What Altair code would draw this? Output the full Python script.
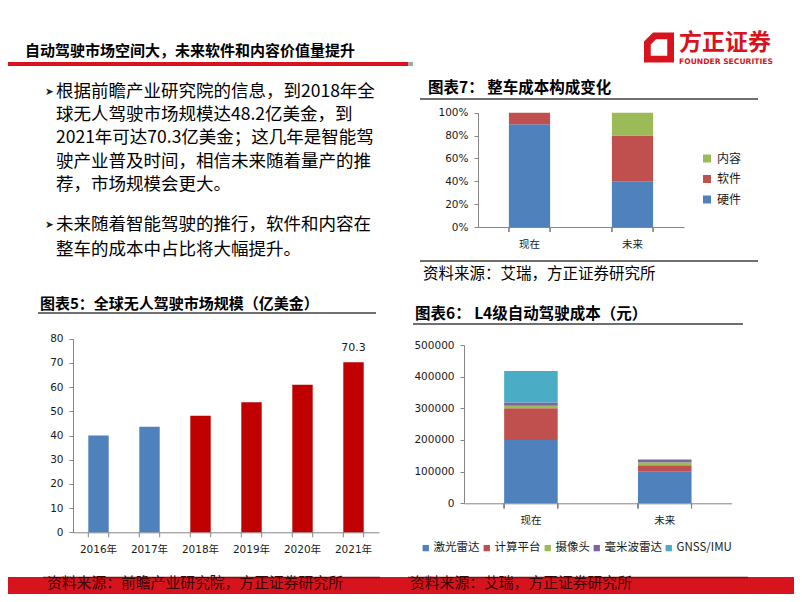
import altair as alt
import pandas as pd

# ---------------- data ----------------
years = ['2016年', '2017年', '2018年', '2019年', '2020年', '2021年']
market = [40.0, 43.6, 48.2, 53.7, 61.0, 70.3]
hist_years = ['2016年', '2017年']

phases = ['现在', '未来']
comp7 = ['硬件', '软件', '内容']
share_now = [90, 10, 0]
share_future = [40, 40, 20]

comp6 = ['激光雷达', '计算平台', '摄像头', '毫米波雷达', 'GNSS/IMU']
cost_now = [200000, 100000, 8000, 10000, 100000]
cost_future = [100000, 20000, 10000, 8000, 0]

bullet1 = ['根据前瞻产业研究院的信息，到2018年全',
           '球无人驾驶市场规模达48.2亿美金，到',
           '2021年可达70.3亿美金；这几年是智能驾',
           '驶产业普及时间，相信未来随着量产的推',
           '荐，市场规模会更大。']
bullet2 = ['未来随着智能驾驶的推行，软件和内容在',
           '整车的成本中占比将大幅提升。']

# ---------------- layout ----------------
W, H = 786, 586
CJK = 'Noto Sans CJK SC'
NUM = 'DejaVu Sans, Noto Sans CJK SC'
AX = '#868686'
LBL = '#1a1a1a'
RED = '#D7141E'

one = pd.DataFrame({'k': [0]})


def txt(s, x, y, size, bold=False, color='#000000', font=CJK, align='left'):
    return alt.Chart(one).mark_text(
        text=s, align=align, baseline='middle', fontSize=size,
        fontWeight='bold' if bold else 'normal', color=color, font=font
    ).encode(x=alt.value(x), y=alt.value(y))


def rect(x0, x1, y0, y1, color):
    return alt.Chart(one).mark_rect(color=color).encode(
        x=alt.value(x0), x2=alt.value(x1), y=alt.value(y0), y2=alt.value(y1))


def hline(x0, x1, y, color, w=1):
    return alt.Chart(one).mark_rule(color=color, strokeWidth=w).encode(
        x=alt.value(x0), x2=alt.value(x1), y=alt.value(y))


def xaxis(y_axis):
    return alt.Axis(orient='bottom', offset=y_axis - H, title=None, labelAngle=0,
                    ticks=False, tickSize=0, domain=True, domainColor=AX,
                    labelFont=NUM, labelFontSize=10.5, labelColor=LBL,
                    labelPadding=12, grid=False)


def yaxis(x_axis, values, expr=None):
    kw = dict(orient='left', offset=-x_axis, title=None, values=values, grid=False,
              tickSize=4, tickColor=AX, domainColor=AX, labelFont=NUM, format='d',
              labelFontSize=10.5, labelColor=LBL, labelPadding=6)
    if expr:
        kw['labelExpr'] = expr
    return alt.Axis(**kw)


deco = []
# title + red line
deco.append(txt('自动驾驶市场空间大，未来软件和内容价值量提升', 17, 42.5, 15, bold=True))
deco.append(rect(0, 400, 54, 58, RED))
deco.append(rect(400, 405, 54, 58, '#A6A6A6'))
# logo
logo_path = ('M -0.4 -1 L 1 -1 L 1 1 L -1 1 L -1 -0.4 Z '
             'M -0.55 0.55 L 0.55 0.55 L 0.55 -0.55 L -0.2 -0.55 L -0.55 -0.2 Z')
deco.append(alt.Chart(one).mark_point(shape=logo_path, filled=True, color=RED, size=900,
                                      opacity=1, strokeWidth=0)
            .encode(x=alt.value(651), y=alt.value(39.5)))
deco.append(txt('方正证券', 671, 34.5, 23, bold=True, color=RED))
deco.append(txt('FOUNDER SECURITIES', 671, 53.5, 7.6, bold=True, color=RED, font='DejaVu Sans'))

# bullets
ys1 = [84, 107, 130, 154, 177]
ys2 = [217, 242]
deco.append(txt('➤', 37, ys1[0], 10.5, font='DejaVu Sans', color='#222222'))
deco.append(txt('➤', 37, ys2[0], 10.5, font='DejaVu Sans', color='#222222'))
for s, y in zip(bullet1, ys1):
    deco.append(txt(s, 48, y, 17.5))
for s, y in zip(bullet2, ys2):
    deco.append(txt(s, 48, y, 17.5))

# chart titles and lines
deco.append(txt('图表5：全球无人驾驶市场规模（亿美金）', 32, 296, 15, bold=True))
deco.append(hline(30, 368, 305, '#404040', 1.5))
deco.append(txt('图表7：  整车成本构成变化', 420, 80, 15.5, bold=True))
deco.append(hline(412, 750, 91, '#404040', 1.5))
deco.append(hline(412, 750, 253, '#404040', 1.5))
deco.append(txt('资料来源：艾瑞，方正证券研究所', 415, 266, 15.5))
deco.append(txt('图表6：  L4级自动驾驶成本（元）', 407, 306, 15.5, bold=True))
deco.append(hline(405, 735, 316, '#404040', 1.5))

# footer
deco.append(rect(0, W, 569, H, RED))
deco.append(hline(35, 372, 569.5, '#7a1010', 1.5))
deco.append(hline(400, 740, 569.5, '#7a1010', 1.5))
deco.append(txt('资料来源：前瞻产业研究院，方正证券研究所', 39, 576, 14.8, color='#3a0505'))
deco.append(txt('资料来源：艾瑞，方正证券研究所', 402, 576, 14.8, color='#3a0505'))

# ---------------- chart 5 ----------------
df5 = pd.DataFrame({'year': years, 'value': market})
x5_scale = alt.Scale(domain=years, range=[65, 371], paddingInner=0.6, paddingOuter=0.3)
y5 = alt.Y('value:Q', scale=alt.Scale(domain=[0, 80], range=[524.3, 330.7], nice=False),
           axis=yaxis(65, list(range(0, 81, 10))))


def x5(bp=None):
    kw = dict(sort=years, scale=x5_scale, axis=xaxis(524.3))
    if bp is not None:
        kw['bandPosition'] = bp
    return alt.X('year:N', **kw)


bars5 = alt.Chart(df5).mark_bar().encode(
    x=x5(), y=y5,
    color=alt.condition(alt.FieldOneOfPredicate(field='year', oneOf=hist_years),
                        alt.value('#4F81BD'), alt.value('#C00000')))
lab5 = alt.Chart(df5).transform_filter(alt.datum.year == '2021年').mark_text(
    dy=-14, fontSize=11, font=NUM, color=LBL, baseline='middle').encode(
    x=x5(), y=y5, text='value:Q')
tk5a = alt.Chart(df5).mark_rule(color=AX).encode(x=x5(0), y=alt.value(524.3), y2=alt.value(529.3))
tk5b = alt.Chart(df5).mark_rule(color=AX).encode(x=x5(1), y=alt.value(524.3), y2=alt.value(529.3))
chart5 = alt.layer(bars5, lab5, tk5a, tk5b)

# ---------------- chart 7 ----------------
rows7 = []
for ph, vals in zip(phases, [share_now, share_future]):
    for c, v in zip(comp7, vals):
        rows7.append({'phase': ph, 'comp': c, 'share': v})
df7 = pd.DataFrame(rows7)
x7_scale = alt.Scale(domain=phases, range=[470, 676], paddingInner=0.6, paddingOuter=0.3)


def x7(bp=None):
    kw = dict(sort=phases, scale=x7_scale, axis=xaxis(219))
    if bp is not None:
        kw['bandPosition'] = bp
    return alt.X('phase:N', **kw)


bars7 = alt.Chart(df7).transform_calculate(
    ord="indexof(['硬件','软件','内容'], datum.comp)"
).mark_bar().encode(
    x=x7(),
    y=alt.Y('share:Q', stack='zero',
            scale=alt.Scale(domain=[0, 100], range=[219, 104.7], nice=False),
            axis=yaxis(470, [0, 20, 40, 60, 80, 100], "datum.value + '%'")),
    color=alt.Color('comp:N', scale=alt.Scale(domain=['内容', '软件', '硬件'],
                                              range=['#9BBB59', '#C0504D', '#4F81BD']),
                    legend=alt.Legend(orient='none', legendX=693, legendY=144.5, title=None,
                                      symbolType='square', symbolSize=64, labelFontSize=12,
                                      labelFont=CJK, labelColor=LBL, rowPadding=8.5,
                                      labelOffset=4, symbolStrokeWidth=0)),
    order=alt.Order('ord:Q'))
tk7a = alt.Chart(df7).mark_rule(color=AX).encode(x=x7(0), y=alt.value(219), y2=alt.value(224))
tk7b = alt.Chart(df7).mark_rule(color=AX).encode(x=x7(1), y=alt.value(219), y2=alt.value(224))
chart7 = alt.layer(bars7, tk7a, tk7b)

# ---------------- chart 6 ----------------
rows6 = []
for ph, vals in zip(phases, [cost_now, cost_future]):
    for c, v in zip(comp6, vals):
        rows6.append({'phase': ph, 'comp': c, 'cost': v})
df6 = pd.DataFrame(rows6)
x6_scale = alt.Scale(domain=phases, range=[456, 723.7], paddingInner=0.6, paddingOuter=0.3)


def x6(bp=None):
    kw = dict(sort=phases, scale=x6_scale, axis=xaxis(495.3))
    if bp is not None:
        kw['bandPosition'] = bp
    return alt.X('phase:N', **kw)


bars6 = alt.Chart(df6).transform_calculate(
    ord="indexof(['激光雷达','计算平台','摄像头','毫米波雷达','GNSS/IMU'], datum.comp)"
).mark_bar().encode(
    x=x6(),
    y=alt.Y('cost:Q', stack='zero',
            scale=alt.Scale(domain=[0, 500000], range=[495.3, 337], nice=False),
            axis=yaxis(456, [0, 100000, 200000, 300000, 400000, 500000])),
    color=alt.Color('comp:N', scale=alt.Scale(domain=comp6,
                                              range=['#4F81BD', '#C0504D', '#9BBB59',
                                                     '#8064A2', '#4BACC6']),
                    legend=alt.Legend(orient='none', legendX=412, legendY=534, title=None,
                                      direction='horizontal', columns=5, columnPadding=1,
                                      symbolType='square', symbolSize=40, labelFontSize=11.5,
                                      labelFont=CJK, labelColor=LBL, labelOffset=2,
                                      symbolStrokeWidth=0)),
    order=alt.Order('ord:Q'))
tk6a = alt.Chart(df6).mark_rule(color=AX).encode(x=x6(0), y=alt.value(495.3), y2=alt.value(500.3))
tk6b = alt.Chart(df6).mark_rule(color=AX).encode(x=x6(1), y=alt.value(495.3), y2=alt.value(500.3))
chart6 = alt.layer(bars6, tk6a, tk6b)

chart = alt.layer(*deco, chart5, chart7, chart6).resolve_scale(
    x='independent', y='independent', color='independent'
).resolve_axis(x='independent', y='independent').resolve_legend(
    color='independent'
).properties(width=W, height=H, padding=0, autosize='none').configure_view(stroke=None)

chart.save('out.html', embed_options={'renderer': 'svg', 'actions': False})
